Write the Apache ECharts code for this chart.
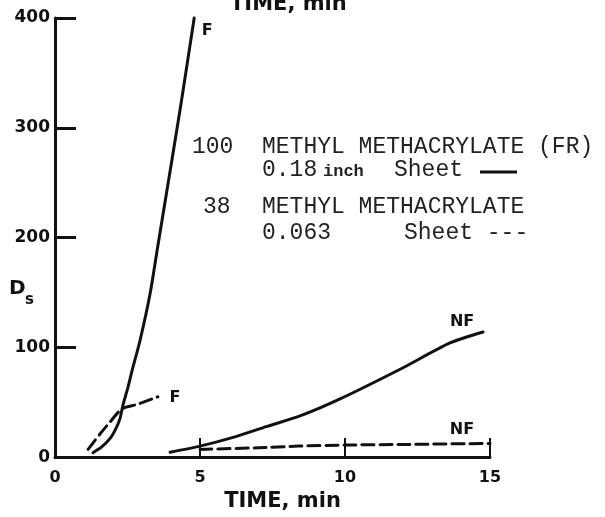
<!DOCTYPE html>
<html><head><meta charset="utf-8">
<script src="https://cdn.jsdelivr.net/npm/echarts@6/dist/echarts.min.js"></script>
<style>html,body{margin:0;padding:0;background:#fff}#c{width:605px;height:517px}</style>
</head><body><div id="c"></div>
<script>
// ---- data ----
const xTicks = [0, 5, 10, 15];
const yTicks = [0, 100, 200, 300, 400];
// 100 methyl methacrylate (FR), 0.18 inch sheet, flaming (solid)
const fSolidT = [1.31, 1.6, 1.9, 2.1, 2.24, 2.34, 2.52, 2.66, 2.93, 3.28, 3.55, 3.83, 4.34, 4.8];
const fSolidD = [4, 9, 17, 26, 35, 47, 64, 79, 106, 149, 193, 238, 321, 400];
// 38 methyl methacrylate, 0.063 sheet, flaming (dashed)
const fDashT = [1.14, 1.55, 1.9, 2.31, 2.83, 3.55];
const fDashD = [7, 21, 32, 44, 48, 55];
// non-flaming, solid
const nfSolidT = [3.97, 5.0, 6.14, 7.31, 8.45, 9.83, 11.9, 13.62, 14.76];
const nfSolidD = [4.5, 10, 18, 28, 37.5, 53, 80, 104, 114];
// non-flaming, dashed
const nfDashT = [5.0, 7.0, 8.4, 10.0, 12.0, 15.0];
const nfDashD = [7, 8.5, 10, 11, 11.5, 12.5];
const curveLabels = ['F', 'F', 'NF', 'NF'];

const INK = '#111';
const SANS = 'DejaVu Sans';

function pairs(t, d) { return t.map((v, i) => [v, d[i]]); }
function endMark(t, d, text, off) {
  const n = t.length - 1;
  return {
    symbol: 'circle', symbolSize: 1, silent: true, animation: false,
    itemStyle: { color: 'rgba(0,0,0,0)' },
    label: { show: true, position: 'inside', formatter: text, offset: off,
      color: INK, fontFamily: SANS, fontWeight: 'bold', fontSize: 16 },
    data: [{ coord: [t[n], d[n]] }]
  };
}
function lineSeries(t, d, dashed, label, off) {
  return {
    type: 'line', data: pairs(t, d), smooth: 0.25, showSymbol: false,
    clip: false,
    lineStyle: { color: INK, width: 3, type: dashed ? [12, 6] : 'solid', cap: 'round', join: 'round' },
    markPoint: endMark(t, d, label, off), animation: false, z: 3
  };
}

const chart = echarts.init(document.getElementById('c'), null, { renderer: 'canvas' });
chart.setOption({
  backgroundColor: '#fff',
  animation: false,
  grid: { left: 55, right: 115, top: 18, bottom: 51 },
  xAxis: {
    type: 'value', min: xTicks[0], max: xTicks[xTicks.length - 1], interval: 5,
    axisLine: { lineStyle: { color: INK, width: 3 } },
    axisTick: { inside: true, length: 19, lineStyle: { color: INK, width: 2 } },
    axisLabel: { color: INK, fontFamily: SANS, fontWeight: 'bold', fontSize: 16, margin: 13 },
    splitLine: { show: false },
    name: 'TIME, min', nameLocation: 'middle', nameGap: 29,
    nameTextStyle: { color: INK, fontFamily: SANS, fontWeight: 'bold', fontSize: 21, padding: [0, 0, 0, 20] }
  },
  yAxis: {
    type: 'value', min: yTicks[0], max: yTicks[yTicks.length - 1], interval: 100,
    axisLine: { lineStyle: { color: INK, width: 3 } },
    axisTick: { inside: true, length: 21, lineStyle: { color: INK, width: 3 } },
    axisLabel: { color: INK, fontFamily: SANS, fontWeight: 'bold', fontSize: 17, margin: 5 },
    splitLine: { show: false }
  },
  series: [
    lineSeries(fSolidT, fSolidD, false, curveLabels[0], [13, 13]),
    lineSeries(fDashT, fDashD, true, curveLabels[1], [17, 1]),
    lineSeries(nfSolidT, nfSolidD, false, curveLabels[2], [-21, -10]),
    lineSeries(nfDashT, nfDashD, true, curveLabels[3], [-28, -14])
  ],
  graphic: [
    { type: 'text', left: 230, top: -6, style: { text: 'TIME, min', fill: INK, font: 'bold 21px "DejaVu Sans"' } },
    { type: 'text', x: 9, y: 289, style: { text: 'D', fill: INK, font: 'bold 20px "DejaVu Sans"', verticalAlign: 'middle' } },
    { type: 'text', x: 25, y: 300, style: { text: 's', fill: INK, font: 'bold 15px "DejaVu Sans"', verticalAlign: 'middle' } },
    { type: 'text', x: 192, y: 147, style: { text: '100', fill: '#222', font: '23px "Liberation Mono"', verticalAlign: 'middle' } },
    { type: 'text', x: 262, y: 147, style: { text: 'METHYL METHACRYLATE (FR)', fill: '#222', font: '23px "Liberation Mono"', verticalAlign: 'middle' } },
    { type: 'text', x: 262, y: 170, style: { text: '0.18', fill: '#222', font: '23px "Liberation Mono"', verticalAlign: 'middle' } },
    { type: 'text', x: 323, y: 172, style: { text: 'inch', fill: '#222', font: 'bold 17px "Liberation Mono"', verticalAlign: 'middle' } },
    { type: 'text', x: 394, y: 170, style: { text: 'Sheet', fill: '#222', font: '23px "Liberation Mono"', verticalAlign: 'middle' } },
    { type: 'line', shape: { x1: 480, y1: 172, x2: 517, y2: 172 }, style: { stroke: INK, lineWidth: 3 } },
    { type: 'text', x: 203, y: 207, style: { text: '38', fill: '#222', font: '23px "Liberation Mono"', verticalAlign: 'middle' } },
    { type: 'text', x: 262, y: 207, style: { text: 'METHYL METHACRYLATE', fill: '#222', font: '23px "Liberation Mono"', verticalAlign: 'middle' } },
    { type: 'text', x: 262, y: 233, style: { text: '0.063', fill: '#222', font: '23px "Liberation Mono"', verticalAlign: 'middle' } },
    { type: 'text', x: 404, y: 233, style: { text: 'Sheet ---', fill: '#222', font: '23px "Liberation Mono"', verticalAlign: 'middle' } }
  ]
});
</script></body></html>
